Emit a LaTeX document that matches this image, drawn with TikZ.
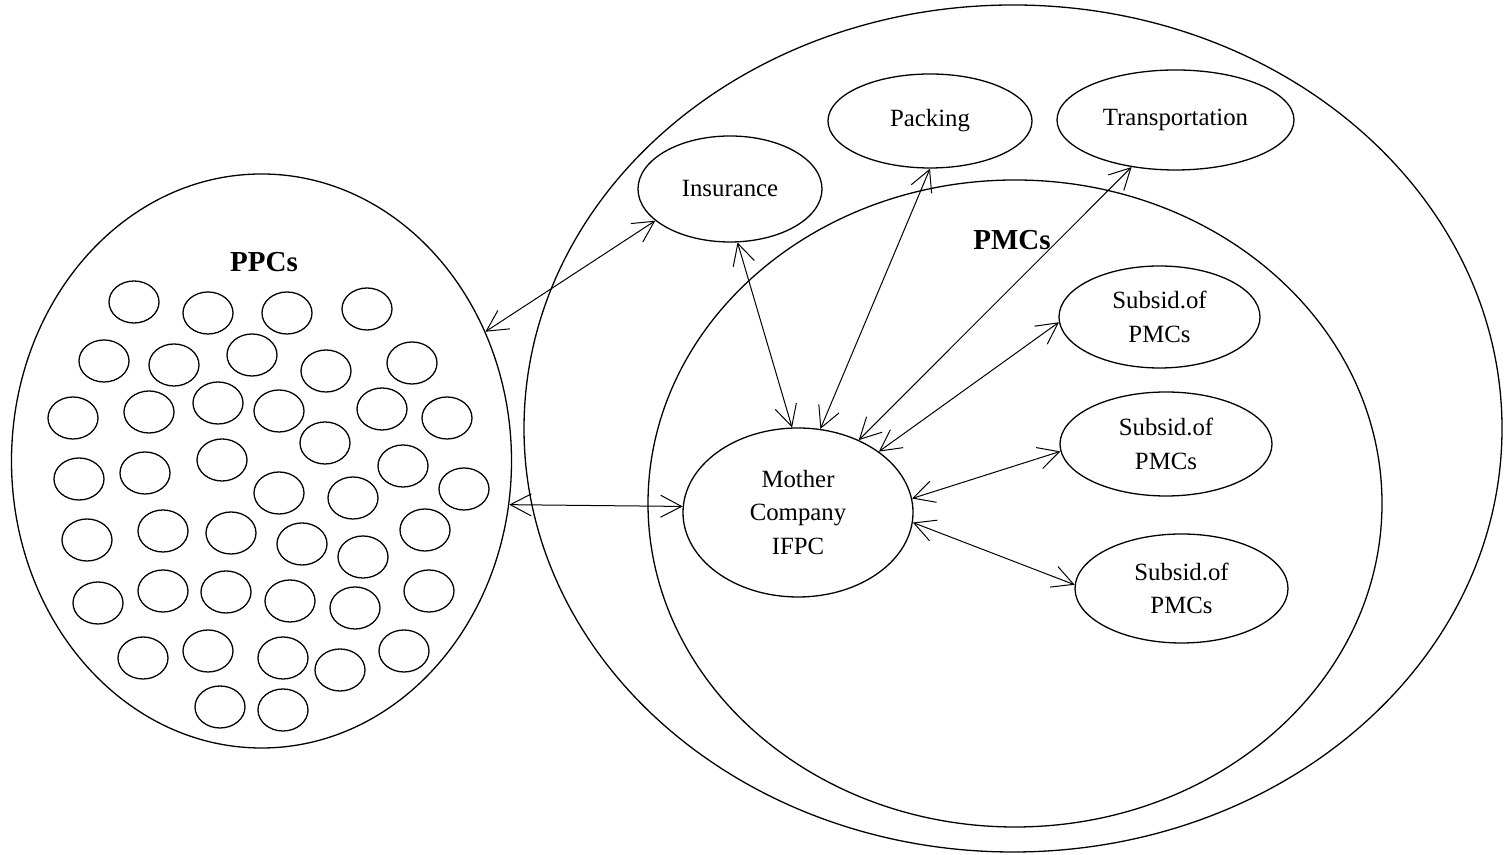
\documentclass[tikz,border=0pt]{standalone}
\usepackage{fontspec}
\setmainfont{Liberation Serif}
\usepackage{tikz}
\usetikzlibrary{shapes.geometric}
\usetikzlibrary{arrows.meta}

\begin{document}
\begin{tikzpicture}[x=0.5pt, y=0.5pt, line width=0.65pt,
    every node/.style={font=\fontsize{12.4}{16.8}\selectfont},
    company/.style={ellipse, draw, inner sep=0pt, align=center},
    title/.style={font=\fontsize{14.5}{17}\selectfont\bfseries},
    link/.style={{Straight Barb[length=10.5pt,width=11pt]}-{Straight Barb[length=10.5pt,width=11pt]}, line width=0.5pt}]
    \useasboundingbox (0,0) rectangle (1504,855);
    % PPCs
        \node[company, minimum width=250pt, minimum height=287pt] (ppc) at (261.5,394) {};
        \node[title] (ppclabel) at (264,593) {PPCs};
        \draw (134,553) ellipse (25 and 21) (208,542) ellipse (25 and 21) (287,542) ellipse (25 and 21) (367,546) ellipse (25 and 21);
        \draw (104,494) ellipse (25 and 21) (174,490) ellipse (25 and 21) (252,500) ellipse (25 and 21) (326,484) ellipse (25 and 21) (412,492) ellipse (25 and 21);
        \draw (73,437) ellipse (25 and 21) (149,443) ellipse (25 and 21) (218,452) ellipse (25 and 21) (279,444) ellipse (25 and 21) (382,446) ellipse (25 and 21) (447,437) ellipse (25 and 21) (325,412) ellipse (25 and 21);
        \draw (79,376) ellipse (25 and 21) (145,382) ellipse (25 and 21) (222,395) ellipse (25 and 21) (279,362) ellipse (25 and 21) (353,357) ellipse (25 and 21) (403,389) ellipse (25 and 21) (464,366) ellipse (25 and 21);
        \draw (87,315) ellipse (25 and 21) (163,324) ellipse (25 and 21) (231,322) ellipse (25 and 21) (302,311) ellipse (25 and 21) (363,298) ellipse (25 and 21) (425,325) ellipse (25 and 21);
        \draw (98,252) ellipse (25 and 21) (163,264) ellipse (25 and 21) (226,263) ellipse (25 and 21) (290,254) ellipse (25 and 21) (355,247) ellipse (25 and 21) (429,264) ellipse (25 and 21);
        \draw (143,197) ellipse (25 and 21) (208,204) ellipse (25 and 21) (283,197) ellipse (25 and 21) (340,185) ellipse (25 and 21) (404,204) ellipse (25 and 21);
        \draw (220,148) ellipse (25 and 21) (283,145) ellipse (25 and 21);
    % PMCs
        \node[company, minimum width=489pt, minimum height=423.5pt] (outer) at (1013,426.5) {};
        \node[company, minimum width=367pt, minimum height=323.5pt] (pmc) at (1015,351.5) {};
        \node[title] (pmclabel) at (1012,615) {PMCs};
        \node[company, minimum width=92pt, minimum height=53pt] (ins) at (730,666) {Insurance};
        \node[company, minimum width=102pt, minimum height=47pt] (pack) at (930,734) {Packing};
        \node[company, minimum width=118.5pt, minimum height=50pt] (trans) at (1175.5,735) {Transportation};
        \node[company, minimum width=115pt, minimum height=84.5pt] (mother) at (798,342.5) {Mother\\Company\\IFPC};
        \node[company, minimum width=100.5pt, minimum height=51pt] (sub1) at (1159.5,538) {Subsid.of\\PMCs};
        \node[company, minimum width=106pt, minimum height=52pt] (sub2) at (1166,411) {Subsid.of\\PMCs};
        \node[company, minimum width=106.5pt, minimum height=54.5pt] (sub3) at (1181.5,266.5) {Subsid.of\\PMCs};
    % links
        \draw[link] (ppc.30.7) -- (ins.203.7);
        \draw[link] (ppc.-10.2) -- (mother.177.3);
        \draw[link] (ins.278.4) -- (mother.94.3);
        \draw[link] (pack.270) -- (mother.75.4);
        \draw[link] (trans.227) -- (mother.50.9);
        \draw[link] (sub1.183) -- (mother.37.4);
        \draw[link] (sub2.184) -- (mother.7.8);
        \draw[link] (sub3.178) -- (mother.-5.2);
\end{tikzpicture}
\end{document}
